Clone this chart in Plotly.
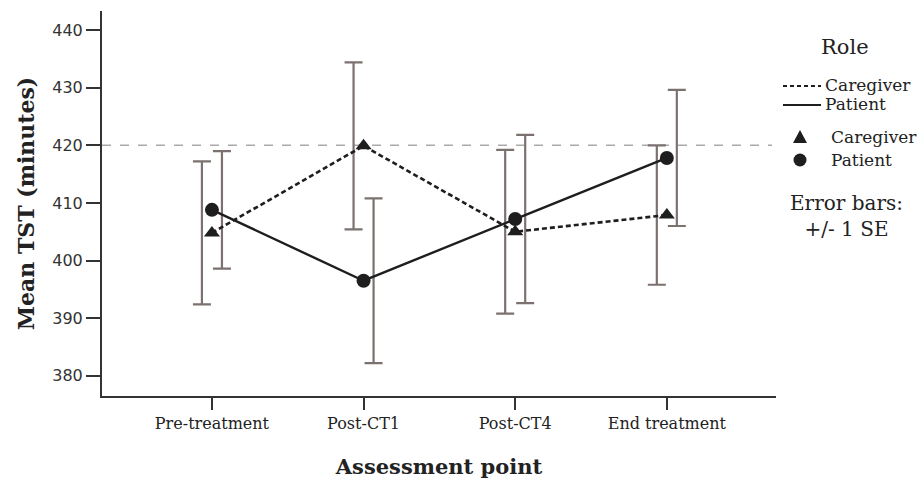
import plotly.graph_objects as go

categories = ["Pre-treatment", "Post-CT1", "Post-CT4", "End treatment"]
caregiver_mean = [404.8, 419.9, 405.0, 407.9]
caregiver_se = [12.4, 14.5, 14.2, 12.1]
patient_mean = [408.8, 396.5, 407.2, 417.8]
patient_se = [10.2, 14.3, 14.6, 11.8]
y_ticks = [380, 390, 400, 410, 420, 430, 440]
reference_value = 420
legend_title = "Role"
legend_labels = ["Caregiver", "Patient", "Caregiver", "Patient"]
note_text = "Error bars:<br>+/- 1 SE"

W, H = 917, 481
ML, MR, MT, MB = 102, 141, 11, 85
PW, PH = W - ML - MR, H - MT - MB


def px(X):
    return (X - ML) / PW


def py(Y):
    return 1 - (Y - MT) / PH


xpos = list(range(len(categories)))
offset = 0.066
bar_color = "#7b7270"
line_color = "#1e1e1e"
text_color = "#222"
serif = "DejaVu Serif"
care_dash = "5px,3px"

fig = go.Figure()

# error bars (offset left for caregiver, right for patient)
for means, ses, sign in [(caregiver_mean, caregiver_se, -1), (patient_mean, patient_se, 1)]:
    fig.add_trace(go.Scatter(
        x=[x + sign * offset for x in xpos], y=means, mode="markers",
        marker=dict(size=1, color="rgba(0,0,0,0)"),
        error_y=dict(type="data", array=ses, visible=True, color=bar_color,
                     thickness=2.2, width=9),
        showlegend=False, hoverinfo="skip"))

fig.add_trace(go.Scatter(x=xpos, y=caregiver_mean, mode="lines", name="Caregiver",
                         line=dict(color=line_color, width=2.6, dash=care_dash),
                         showlegend=False))
fig.add_trace(go.Scatter(x=xpos, y=patient_mean, mode="lines", name="Patient",
                         line=dict(color=line_color, width=2.4),
                         showlegend=False))
fig.add_trace(go.Scatter(x=xpos, y=caregiver_mean, mode="markers", name="Caregiver",
                         marker=dict(symbol="triangle-up", size=14, color=line_color),
                         showlegend=False))
fig.add_trace(go.Scatter(x=xpos, y=patient_mean, mode="markers", name="Patient",
                         marker=dict(symbol="circle", size=14, color=line_color),
                         showlegend=False))

fig.add_shape(type="line", xref="paper", yref="y", x0=0, x1=px(772),
              y0=reference_value, y1=reference_value,
              line=dict(color="#a9a9a9", width=1.5, dash="dash"), layer="below")

# ---- manual legend ----
def text(t, X, Y, size, anchor="left"):
    fig.add_annotation(text=t, xref="paper", yref="paper", x=px(X), y=py(Y),
                       xanchor=anchor, yanchor="middle", showarrow=False,
                       font=dict(family=serif, size=size, color=text_color))


text(legend_title, 845, 47, 21, "center")
fig.add_shape(type="line", xref="paper", yref="paper", x0=px(783), x1=px(821),
              y0=py(86), y1=py(86), line=dict(color=line_color, width=2, dash="4px,3px"))
fig.add_shape(type="line", xref="paper", yref="paper", x0=px(783), x1=px(821),
              y0=py(105), y1=py(105), line=dict(color=line_color, width=2))
text(legend_labels[0], 823, 85, 17)
text(legend_labels[1], 823, 104, 17)
tx, ty = 800, 137
fig.add_shape(type="path", xref="paper", yref="paper",
              path=f"M {px(tx-7)} {py(ty+6)} L {px(tx+7)} {py(ty+6)} L {px(tx)} {py(ty-7)} Z",
              fillcolor=line_color, line=dict(width=0))
cx, cy, r = 800, 160, 6.5
fig.add_shape(type="circle", xref="paper", yref="paper",
              x0=px(cx - r), x1=px(cx + r), y0=py(cy + r), y1=py(cy - r),
              fillcolor=line_color, line=dict(width=0))
text(legend_labels[2], 829, 137, 17)
text(legend_labels[3], 829, 160, 17)

text(note_text, 846, 216, 20, "center")

fig.update_layout(
    width=W, height=H,
    margin=dict(l=ML, r=MR, t=MT, b=MB),
    plot_bgcolor="white", paper_bgcolor="white",
    showlegend=False,
    xaxis=dict(range=[-0.725, 3.72], tickvals=xpos, ticktext=categories,
               automargin=False,
               showgrid=False, zeroline=False, showline=True,
               linecolor="#333", linewidth=2, ticks="outside", ticklen=12,
               tickwidth=2, tickcolor="#333",
               tickfont=dict(family=serif, size=16, color=text_color),
               title=dict(text="<b>Assessment point</b>", standoff=27,
                          font=dict(family=serif, size=21, color=text_color))),
    yaxis=dict(range=[376.5, 443.3], tickvals=y_ticks,
               automargin=False,
               showgrid=False, zeroline=False, showline=True,
               linecolor="#333", linewidth=2, ticks="outside", ticklen=14,
               tickwidth=2, tickcolor="#333",
               tickfont=dict(family="DejaVu Sans", size=16, color="#333"),
               title=dict(text="<b>Mean TST (minutes)</b>", standoff=12,
                          font=dict(family=serif, size=22, color=text_color))),
)

fig.write_html("out.html")
